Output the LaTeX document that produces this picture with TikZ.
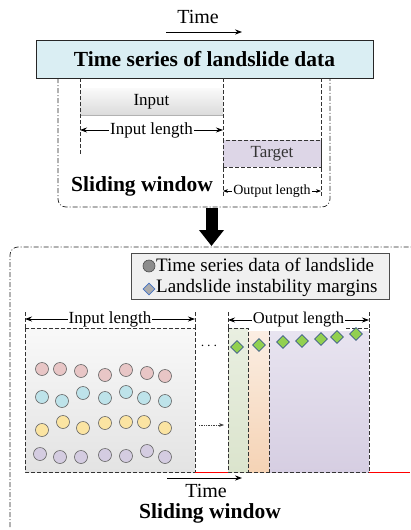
\documentclass[tikz,border=0pt]{standalone}
\usepackage{fontspec}
\setmainfont{Liberation Serif}
\usepackage{tikz}
\usetikzlibrary{arrows.meta, calc, positioning, shapes.geometric}
\usepackage{xcolor}
\definecolor{tsBlue}{HTML}{DAEEF3}
\definecolor{tgtPurple}{HTML}{DDD6E7}
\definecolor{cPink}{HTML}{E8C6C6}
\definecolor{cCyan}{HTML}{BEE3EA}
\definecolor{cYellow}{HTML}{FBE4A2}
\definecolor{cLav}{HTML}{D4CCE1}
\definecolor{dGreen}{HTML}{92D050}
\definecolor{dBlue}{HTML}{3C5A8A}
\definecolor{legBlue}{HTML}{4472C4}
\definecolor{colGreenT}{HTML}{E9EFE1}
\definecolor{colGreenB}{HTML}{DBE4CD}
\definecolor{colOrangeT}{HTML}{FBEEE3}
\definecolor{colOrangeB}{HTML}{F5D3B5}
\definecolor{colPurpleT}{HTML}{E8E4F0}
\definecolor{colPurpleB}{HTML}{D6CEE2}
\newcommand{\fsBig}{\fontsize{20}{23}\selectfont}
\newcommand{\fsHead}{\fontsize{21.5}{24}\selectfont\bfseries}
\newcommand{\fsMid}{\fontsize{17}{20}\selectfont}
\newcommand{\fsSmall}{\fontsize{14}{16}\selectfont}

\begin{document}
\begin{tikzpicture}[x=1pt, y=-1pt,
  titlebox/.style={draw=black!85, line width=0.8pt, fill=tsBlue, minimum width=337pt,
                   minimum height=38pt, inner sep=0pt, font=\fsHead},
  frame/.style={line width=0.7pt, black!85, dash pattern=on 5pt off 2pt on 1pt off 2pt,
                rounded corners=8pt},
  guide/.style={line width=0.8pt, black!80, dash pattern=on 4pt off 2pt},
  dim/.style={{Stealth[length=7pt, width=5pt]}-{Stealth[length=7pt, width=5pt]}, line width=0.8pt},
  dimlab/.style={fill=white, inner sep=1pt, font=#1},
  dimlab/.default=\fsMid,
  timearr/.style={-{Stealth[length=7pt]}, line width=1pt},
  dot/.style={circle, draw=black!60, line width=0.6pt, fill=#1, minimum size=13pt, inner sep=0pt},
  gem/.style={diamond, draw=dBlue, line width=0.6pt, fill=dGreen, minimum size=13pt, inner sep=0pt}]
  \useasboundingbox (0,0) rectangle (410,530);
  % top: the sliding window over the series
  \node[font=\fsBig] (timeA) at (198,17) {Time};
  \coordinate (tA1) at (166,32);
  \coordinate (tA2) at (242,32);
  \draw[timearr] (tA1) -- (tA2);
  \node[titlebox] (ts) at (204.5,59) {Time series of landslide data};
  \draw[frame] (58,78) -- (58,207) -- (330,207) -- (330,78);
  \node[top color=gray!4, bottom color=gray!28, minimum width=143pt, minimum height=27pt,
        inner sep=0pt, font=\fsMid] (inp) at (151.5,101.5) {Input};
  \draw[gray!60, line width=0.8pt] (inp.south west) -- (inp.south east);
  \coordinate (gA) at (80,78);   \coordinate (gA2) at (80,155);
  \coordinate (gB) at (223,78);  \coordinate (gB2) at (223,197);
  \coordinate (gC) at (321,78);  \coordinate (gC2) at (321,197);
  \draw[guide] (gA) -- (gA2);
  \draw[guide] (gB) -- (gB2);
  \draw[guide] (gC) -- (gC2);
  \coordinate (ilA) at (80,130);  \coordinate (ilB) at (223,130);
  \draw[dim] (ilA) -- (ilB) node[midway, dimlab] (inlen) {Input length};
  \node[draw, guide, fill=tgtPurple, minimum width=98pt, minimum height=27pt, inner sep=0pt,
        font=\fsMid] (tgt) at (272,153.5) {Target};
  \coordinate (olA) at (223,191);  \coordinate (olB) at (321,191);
  \draw[{Stealth[length=5pt]}-{Stealth[length=5pt]}, line width=0.7pt] (olA) -- (olB)
    node[midway, dimlab=\fsSmall] (outlen) {Output length};
  \node[font=\fsHead] (swA) at (142,186) {Sliding window};
  % big arrow
  \coordinate (bigA) at (211.5,208);
  \coordinate (bigB) at (211.5,246);
  \draw[line width=12pt, -{Triangle[width=24pt, length=16pt]}] (bigA) -- (bigB);
  % bottom: detailed view
  \draw[frame] (10,527) -- (10,247) -- (430,247);
  \node[draw=black!70, fill=gray!12, minimum width=258pt, minimum height=46pt] (leg) at (260.5,276) {};
  \node[dot=gray!90, draw=black!70, minimum size=12pt] (legc) at (149,266) {};
  \node[anchor=west, inner sep=0pt, font=\fontsize{19}{21}\selectfont] (legt1) at (156,265) {Time series data of landslide};
  \node[diamond, draw=legBlue, fill=gray!65, line width=0.6pt, minimum size=12pt, inner sep=0pt] (legd) at (149,289) {};
  \node[anchor=west, inner sep=0pt, font=\fontsize{19}{21}\selectfont] (legt2) at (156,288) {Landslide instability margins};
  % input window
  \shade[top color=gray!5, bottom color=gray!22] (25,328) rectangle (195,472);
  \draw[guide] (25,328) rectangle (195,472);
  \coordinate (iA) at (25,312);   \coordinate (iB) at (195,312);
  \coordinate (iA2) at (25,328);  \coordinate (iB2) at (195,328);
  \draw[guide] (iA) -- (iA2);
  \draw[guide] (iB) -- (iB2);
  \coordinate (ilC) at (25,319);  \coordinate (ilD) at (195,319);
  \draw[dim] (ilC) -- (ilD) node[midway, dimlab] (inlenB) {Input length};
  \foreach \px/\py [count=\i] in {42/369, 60/369, 81/371, 105/375, 126/370, 147/373, 165/376}
    \node[dot=cPink] (p\i) at (\px,\py) {};
  \foreach \px/\py [count=\i] in {42/397, 62/401, 83/393, 105/398, 126/392, 144/398, 165/401}
    \node[dot=cCyan] (b\i) at (\px,\py) {};
  \foreach \px/\py [count=\i] in {42/430, 63/422, 83/428, 105/423, 126/422, 144/422, 165/428}
    \node[dot=cYellow] (y\i) at (\px,\py) {};
  \foreach \px/\py [count=\i] in {40/454, 60/457, 81/457, 105/455, 126/456, 147/451, 165/457}
    \node[dot=cLav] (l\i) at (\px,\py) {};
  \node[font=\fsSmall] (dots) at (209,346) {$\cdots$};
  \coordinate (daA) at (199,425);  \coordinate (daB) at (224,425);
  \draw[densely dotted, black!75, line width=0.7pt, -{Stealth[length=5pt]}] (daA) -- (daB);
  % output window
  \shade[top color=colGreenT, bottom color=colGreenB] (228,328) rectangle (248,472);
  \shade[top color=colOrangeT, bottom color=colOrangeB] (248,331) rectangle (269,472);
  \shade[top color=colPurpleT, bottom color=colPurpleB] (269,331) rectangle (369,472);
  \draw[guide] (228,328) rectangle (248,472);
  \draw[guide] (248,472) -- (369,472);
  \draw[guide] (269,331) -- (269,472);
  \draw[guide] (346,328) -- (369,328) -- (369,472);
  \foreach \px/\py [count=\i] in {237/347, 259/345, 283/342, 302/341, 321/339, 337/337, 356/334}
    \node[gem] (d\i) at (\px,\py) {};
  \coordinate (oA) at (228,312);   \coordinate (oB) at (369,312);
  \coordinate (oA2) at (228,328);  \coordinate (oB2) at (369,328);
  \draw[guide] (oA) -- (oA2);
  \draw[guide] (oB) -- (oB2);
  \coordinate (olC) at (228,320);  \coordinate (olD) at (369,320);
  \draw[dim] (olC) -- (olD) node[midway, dimlab=\fontsize{16.5}{19}\selectfont] (outlenB) {Output length};
  \coordinate (rA) at (195,472);  \coordinate (rB) at (228,472);
  \coordinate (rC) at (369,472);  \coordinate (rD) at (410,472);
  \draw[red, line width=0.8pt] (rA) -- (rB);
  \draw[red, line width=0.8pt] (rC) -- (rD);
  \coordinate (tB1) at (167,478);
  \coordinate (tB2) at (242,478);
  \draw[timearr] (tB1) -- (tB2);
  \node[font=\fsBig, inner sep=0pt] (timeB) at (206,491) {Time};
  \node[font=\fsHead, inner sep=0pt] (swB) at (210,513) {Sliding window};
\end{tikzpicture}
\end{document}
